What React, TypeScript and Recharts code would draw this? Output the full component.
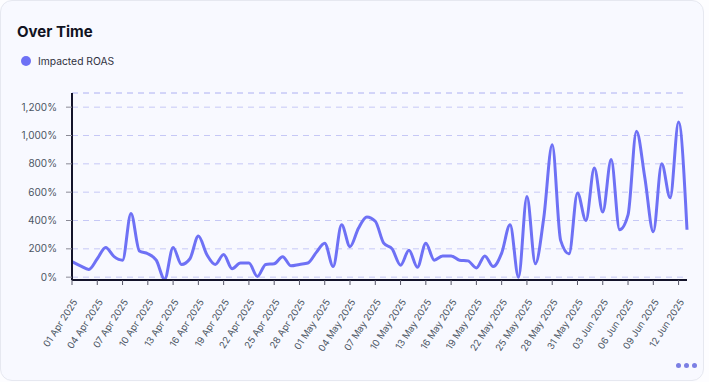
import React from 'react'
import { LineChart, Line, XAxis, YAxis, CartesianGrid, ReferenceLine } from 'recharts'

const DATES = [
  '01 Apr 2025', '02 Apr 2025', '03 Apr 2025', '04 Apr 2025', '05 Apr 2025', '06 Apr 2025',
  '07 Apr 2025', '08 Apr 2025', '09 Apr 2025', '10 Apr 2025', '11 Apr 2025', '12 Apr 2025',
  '13 Apr 2025', '14 Apr 2025', '15 Apr 2025', '16 Apr 2025', '17 Apr 2025', '18 Apr 2025',
  '19 Apr 2025', '20 Apr 2025', '21 Apr 2025', '22 Apr 2025', '23 Apr 2025', '24 Apr 2025',
  '25 Apr 2025', '26 Apr 2025', '27 Apr 2025', '28 Apr 2025', '29 Apr 2025', '30 Apr 2025',
  '01 May 2025', '02 May 2025', '03 May 2025', '04 May 2025', '05 May 2025', '06 May 2025',
  '07 May 2025', '08 May 2025', '09 May 2025', '10 May 2025', '11 May 2025', '12 May 2025',
  '13 May 2025', '14 May 2025', '15 May 2025', '16 May 2025', '17 May 2025', '18 May 2025',
  '19 May 2025', '20 May 2025', '21 May 2025', '22 May 2025', '23 May 2025', '24 May 2025',
  '25 May 2025', '26 May 2025', '27 May 2025', '28 May 2025', '29 May 2025', '30 May 2025',
  '31 May 2025', '01 Jun 2025', '02 Jun 2025', '03 Jun 2025', '04 Jun 2025', '05 Jun 2025',
  '06 Jun 2025', '07 Jun 2025', '08 Jun 2025', '09 Jun 2025', '10 Jun 2025', '11 Jun 2025',
  '12 Jun 2025', '13 Jun 2025',
]

const IMPACTED_ROAS = [
  110, 80, 55, 130, 210, 145, 120, 450, 185, 165, 120, -15,
  210, 90, 130, 290, 160, 90, 160, 60, 100, 100, 5, 90,
  95, 145, 80, 90, 100, 175, 240, 75, 370, 215, 345, 425,
  395, 240, 200, 85, 190, 70, 240, 120, 150, 150, 120, 115,
  65, 150, 75, 170, 370, 0, 570, 95, 420, 935, 260, 165,
  595, 400, 770, 460, 830, 335, 440, 1030, 700, 320, 800, 560,
  1095, 335,
]

const Y_TICKS = [0, 200, 400, 600, 800, 1000, 1200]

const LINE_COLOR = '#6e71f5'
const GRID_COLOR = '#c6c8f6'
const FONT = 'Inter, "Noto Sans", sans-serif'

const data = DATES.map((date, i) => ({ date, roas: IMPACTED_ROAS[i] }))

function DateTick({ x, y, payload }: { x?: number; y?: number; payload?: { value: string } }) {
  return (
    <g transform={`translate(${(x ?? 0) + 6},${(y ?? 0) + 15})`}>
      <text
        transform="rotate(-57)"
        textAnchor="end"
        fontSize={9.5}
        fontFamily={FONT}
        fill="#4b5563"
      >
        {payload?.value}
      </text>
    </g>
  )
}

export default function App() {
  return (
    <div style={{ position: 'fixed', left: 0, top: 0, width: 709, height: 382, background: '#fdfdff', fontFamily: FONT }}>
      <div
        style={{
          position: 'absolute', left: 0, top: 0, width: 702, height: 379,
          background: '#f8f9ff', border: '1px solid #e6e8f0', borderRadius: 12,
        }}
      >
        <div style={{ position: 'absolute', left: 16, top: 21, fontSize: 15, fontWeight: 700, color: '#111322' }}>
          Over Time
        </div>
        <div style={{ position: 'absolute', left: 20, top: 54, display: 'flex', alignItems: 'center', fontSize: 10.3, color: '#2f3140' }}>
          <span style={{ width: 10, height: 10, borderRadius: '50%', background: LINE_COLOR, marginRight: 7 }} />
          Impacted ROAS
        </div>

        <div style={{ position: 'absolute', left: -1, top: -1 }}>
          <LineChart width={703} height={360} data={data} margin={{ top: 93, right: 16, left: 0, bottom: 0 }}>
            <CartesianGrid vertical={false} stroke={GRID_COLOR} strokeDasharray="6 5" />
            <ReferenceLine y={1300} stroke={GRID_COLOR} strokeDasharray="6 5" />
            <XAxis
              dataKey="date"
              interval={2}
              height={80}
              tick={<DateTick />}
              tickSize={5}
              tickLine={{ stroke: '#555566' }}
              axisLine={{ stroke: '#14142b', strokeWidth: 2 }}
            />
            <YAxis
              width={72}
              domain={[-20, 1300]}
              ticks={Y_TICKS}
              tickFormatter={(v: number) => `${v.toLocaleString('en-US')}%`}
              tick={{ fill: '#4b5563', fontSize: 10, fontFamily: FONT }}
              tickSize={6}
              tickMargin={9}
              tickLine={{ stroke: '#8a8a96' }}
              axisLine={{ stroke: '#14142b', strokeWidth: 2 }}
            />
            <Line
              type="monotone"
              dataKey="roas"
              stroke={LINE_COLOR}
              strokeWidth={3}
              dot={false}
              activeDot={false}
              isAnimationActive={false}
            />
          </LineChart>
        </div>

        <div style={{ position: 'absolute', right: 6, bottom: 12, display: 'flex', gap: 3 }}>
          {[0, 1, 2].map(i => (
            <span key={i} style={{ width: 5, height: 5, borderRadius: '50%', background: '#7b7fe4' }} />
          ))}
        </div>
      </div>
    </div>
  )
}
